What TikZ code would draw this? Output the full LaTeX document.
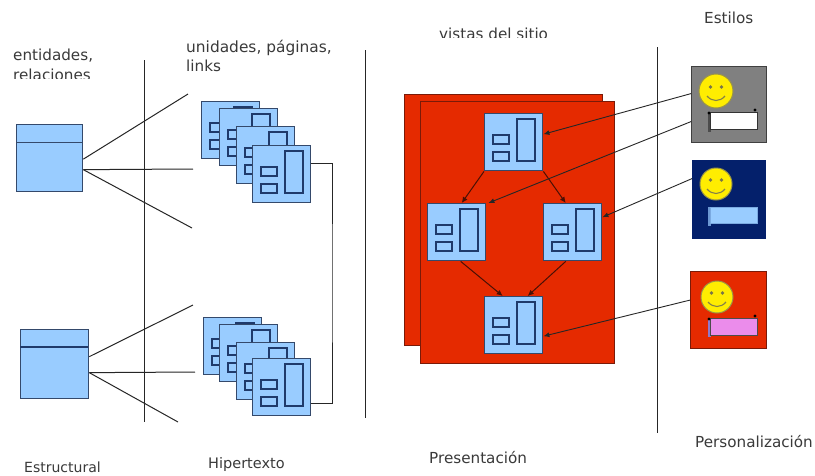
\documentclass[tikz,border=0pt]{standalone}
\usepackage{fontspec}
\setmainfont{DejaVu Sans}
\usetikzlibrary{arrows.meta}
\definecolor{pageblue}{HTML}{99CCFF}
\definecolor{pageedge}{HTML}{34496B}
\definecolor{innerblue}{HTML}{1F3A6B}
\definecolor{redbg}{HTML}{E52A00}
\definecolor{rededge}{HTML}{7A1A08}
\definecolor{navybg}{HTML}{04206B}
\definecolor{txt}{HTML}{3A3A3A}
\tikzset{
  x=1pt,y=-1pt,
  label text/.style={text=txt,font=\fontsize{15.2}{16}\selectfont,inner sep=0pt,anchor=base west},
  pagebox/.style={draw=pageedge,line width=1.4pt,fill=pageblue,minimum width=58pt,minimum height=57pt,inner sep=0pt,anchor=north west},
  innerbox/.style={draw=innerblue,line width=1.3pt,fill=pageblue},
  entity/.style={draw=pageedge,line width=1.3pt,fill=pageblue,inner sep=0pt,anchor=north west},
  redsheet/.style={fill=redbg,draw=rededge,line width=1.2pt,inner sep=0pt,anchor=north west},
  stylebox/.style={line width=1.2pt,inner sep=0pt,anchor=north west,minimum width=75pt,minimum height=76pt},
  divider/.style={draw=black!85,line width=1pt},
  link/.style={draw=black!85,line width=1pt},
  flow/.style={draw=black!85,line width=.9pt,-{Latex[length=6pt,width=5pt]}},
  inflow/.style={draw=rededge!60!black,line width=1pt,-{Latex[length=6pt,width=5.5pt]}},
  face/.style={fill=yellow!95!orange,draw=black!45!yellow,line width=1pt},
  panelrect/.style={line width=1pt,inner sep=0pt,anchor=north west,minimum width=47pt,minimum height=17pt},
}
\newcommand\pageglyph[3]{%
  \node[pagebox] (#1) at (#2,#3) {};
  \begin{scope}[shift={(#2,#3)}]
    \draw[innerbox] (9,22) rectangle (25,31);
    \draw[innerbox] (9,39) rectangle (25,48);
    \draw[innerbox] (33,6) rectangle (51,48);
  \end{scope}}
\newcommand\smileyface[4]{%
  \node[circle,face,minimum size=#4pt,inner sep=0pt] (#1) at (#2,#3) {};
  \begin{scope}[shift={(#2,#3)}]
    \fill[black!60!yellow] (-5.5,-4) circle (1.9);
    \fill[black!60!yellow] (5.5,-4) circle (1.9);
    \draw[black!55!yellow,line width=1.1pt] (-9,5) .. controls (-4,11) and (4,11) .. (9,5);
  \end{scope}}
\begin{document}
\begin{tikzpicture}
\useasboundingbox (0,0) rectangle (815,475);
\fill[white] (0,0) rectangle (815,475);

% section dividers
\coordinate (d1a) at (144,60); \coordinate (d1b) at (144,422);
\coordinate (d2a) at (365,50); \coordinate (d2b) at (365,418);
\coordinate (d3a) at (657,47); \coordinate (d3b) at (657,433);
\draw[divider] (d1a) -- (d1b);
\draw[divider] (d2a) -- (d2b);
\draw[divider] (d3a) -- (d3b);

% entities
\node[entity,minimum width=66pt,minimum height=67pt] (ent1) at (16,124) {};
\draw[pageedge,line width=1pt] (16,142) -- (82,142);
\node[entity,minimum width=68pt,minimum height=69pt] (ent2) at (20,329) {};
\draw[innerblue,line width=1.4pt] (20,347) -- (88,347);

% link ends
\coordinate (e1a) at (188,94); \coordinate (e1b) at (193,169); \coordinate (e1c) at (192,228);
\coordinate (e2a) at (193,305); \coordinate (e2b) at (195,372); \coordinate (e2c) at (178,422);
\draw[link] ([yshift=-1pt]ent1.east) -- (e1a);
\draw[link] ([yshift=-11.5pt]ent1.east) -- (e1b);
\draw[link] ([yshift=-11.5pt]ent1.east) -- (e1c);
\draw[link] ([yshift=7.5pt]ent2.east) -- (e2a);
\draw[link] ([yshift=-8.5pt]ent2.east) -- (e2b);
\draw[link] ([yshift=-8.5pt]ent2.east) -- (e2c);

% hypertext stacks
\pageglyph{a1}{201}{101}
\pageglyph{a2}{219}{108}
\pageglyph{a3}{236}{126}
\pageglyph{a4}{252}{145}
\pageglyph{b1}{203}{317}
\pageglyph{b2}{219}{324}
\pageglyph{b3}{236}{342}
\pageglyph{b4}{252}{358}
\draw[link] ([yshift=10.5pt]a4.east) -| (332,283) |- ([yshift=-16pt]b4.east);

% presentation
\node[redsheet,minimum width=198pt,minimum height=251pt] (back) at (404,94) {};
\node[redsheet,minimum width=194pt,minimum height=262pt] (front) at (420,101) {};
\pageglyph{top}{484}{113}
\pageglyph{left}{427}{203}
\pageglyph{right}{543}{203}
\pageglyph{bottom}{484}{296}
\draw[inflow] (top.south west) -- ([xshift=5pt]left.north);
\draw[inflow] (top.south east) -- ([xshift=-7pt]right.north);
\draw[inflow] ([xshift=4pt]left.south) -- ([xshift=-11pt]bottom.north);
\draw[inflow] ([xshift=-7pt]right.south) -- ([xshift=14pt]bottom.north);

% styles
\node[stylebox,draw=black!75,fill=black!50] (s1) at (691,66) {};
\node[stylebox,draw=navybg,fill=navybg,minimum width=73pt,minimum height=78pt] (s2) at (692,160) {};
\node[stylebox,draw=rededge,fill=redbg,minimum width=76pt,minimum height=77pt] (s3) at (690,271) {};
\smileyface{f1}{716}{91}{34}
\smileyface{f2}{716}{184}{32}
\smileyface{f3}{717}{297}{32}
\fill[black!70] (708,112) rectangle (711,132);
\fill[pageblue!70!navybg] (708,207) rectangle (711,226);
\fill[violet!40!pageblue] (708,318) rectangle (711,337);
\node[panelrect,fill=white,draw=black!80] (r1) at (710,112) {};
\node[panelrect,fill=pageblue,draw=pageblue!80!navybg,minimum height=16pt] (r2) at (710,207) {};
\node[panelrect,fill=violet!35!magenta!45,draw=black!70,minimum height=17pt] (r3) at (710,318) {};
\foreach \cx/\cy in {709/113,755/110,709/319,755/316}
  \fill[black] (\cx,\cy) circle (1.6);

\draw[flow] ([yshift=11pt]s1.west) -- ([yshift=8pt]top.east);
\draw[flow] ([yshift=-17pt]s1.west) -- ([xshift=2pt]left.north east);
\draw[flow] ([yshift=21pt]s2.west) -- ([yshift=15pt]right.east);
\draw[flow] ([yshift=10pt]s3.west) -- ([yshift=-11pt]bottom.east);

% labels
\begin{scope}
  \clip (0,40) rectangle (130,78);
  \node[label text] (t1) at (13,60) {entidades,};
  \node[label text] (t2) at (13,80.5) {relaciones};
\end{scope}
\node[label text,font=\fontsize{15.4}{16}\selectfont] (t3) at (186,52) {unidades, páginas,};
\node[label text] (t4) at (186,71) {links};
\begin{scope}
  \clip (420,20) rectangle (570,37.5);
  \node[label text] (t5) at (439,39.5) {vistas del sitio};
\end{scope}
\node[label text] (t6) at (704,23) {Estilos};
\node[label text,font=\fontsize{14}{16}\selectfont] (t7) at (24,472) {Estructural};
\node[label text,font=\fontsize{14.5}{16}\selectfont] (t8) at (208,468) {Hipertexto};
\node[label text] (t9) at (429,463) {Presentación};
\node[label text] (t10) at (695,447) {Personalización};
\end{tikzpicture}
\end{document}
